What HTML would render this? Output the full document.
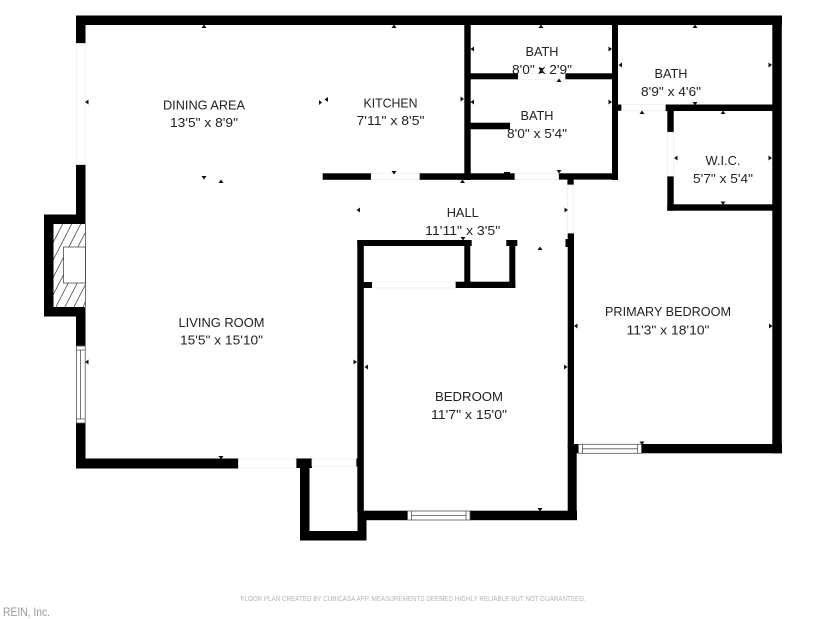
<!DOCTYPE html>
<html><head><meta charset="utf-8">
<style>
html,body{margin:0;padding:0;background:#fff}
svg{display:block}
text{font-family:"Liberation Sans",sans-serif;fill:#222;font-size:13px;text-anchor:middle}
</style></head>
<body>
<svg width="825" height="619" viewBox="0 0 825 619" xmlns="http://www.w3.org/2000/svg">
<defs><clipPath id="fp"><rect x="53" y="224" width="32.5" height="83"/></clipPath></defs>
<rect width="825" height="619" fill="#fff"/>
<!-- hatch -->
<g stroke="#333" stroke-width="0.7" fill="none">
<g clip-path="url(#fp)">
<path d="M62.7 224L19.9 307M71.7 224L28.9 307M80.7 224L37.9 307M89.7 224L46.9 307M98.7 224L55.9 307M107.7 224L64.9 307M116.7 224L73.9 307M125.7 224L82.9 307"/>
</g>
<rect x="63.5" y="247" width="22" height="36" fill="#fff"/>
<path d="M85.5 224V307"/>
</g>
<!-- walls -->
<g fill="#000">
<rect x="76" y="15.5" width="706" height="9.5"/>
<rect x="76" y="15.5" width="9.5" height="28"/>
<rect x="76" y="164.5" width="9.5" height="59.5"/>
<rect x="44" y="214.5" width="41.5" height="9.5"/>
<rect x="44" y="214.5" width="9.5" height="102"/>
<rect x="44" y="307" width="41.5" height="9.5"/>
<rect x="76" y="307" width="9.5" height="39"/>
<rect x="76" y="423" width="9.5" height="45.5"/>
<rect x="76" y="458.5" width="162.5" height="10"/>
<rect x="296" y="458.5" width="16" height="9.5"/>
<rect x="300" y="458.5" width="9.5" height="82"/>
<rect x="300" y="531" width="66.5" height="9.5"/>
<rect x="357.5" y="511" width="9" height="29.5"/>
<rect x="357.3" y="240" width="6.5" height="272"/>
<rect x="355.8" y="458.5" width="3" height="8"/>
<rect x="363" y="510.7" width="44.5" height="9.5"/>
<rect x="470" y="510.7" width="107" height="9.5"/>
<rect x="567.7" y="445" width="9" height="75"/>
<rect x="567.7" y="233" width="6.3" height="215"/>
<rect x="565.5" y="239" width="3" height="8"/>
<rect x="568" y="444" width="10" height="9.3"/>
<rect x="641.7" y="444" width="140.3" height="9.3"/>
<rect x="772.3" y="15.5" width="9.5" height="437.8"/>
<rect x="464.3" y="25" width="6.4" height="155"/>
<rect x="322.7" y="173.3" width="48.6" height="6.5"/>
<rect x="419.3" y="173.3" width="95.7" height="6.5"/>
<rect x="504" y="172" width="6" height="2"/>
<rect x="558.5" y="173.3" width="59.5" height="6.3"/>
<rect x="567.4" y="179" width="6.3" height="6"/>
<rect x="470" y="73.3" width="48.3" height="6"/>
<rect x="565" y="73.3" width="48" height="6"/>
<rect x="470" y="122.7" width="40" height="6.6"/>
<rect x="612" y="25" width="6" height="155"/>
<rect x="617" y="104.5" width="4.7" height="6.3"/>
<rect x="665.3" y="104.5" width="107.5" height="6.5"/>
<rect x="667.3" y="104.5" width="6.4" height="27.8"/>
<rect x="667.3" y="176" width="6.4" height="34.7"/>
<rect x="667.3" y="204.3" width="105.5" height="6.4"/>
<rect x="357.3" y="240" width="114.4" height="6"/>
<rect x="464.3" y="240" width="6" height="48"/>
<rect x="455.3" y="281.7" width="60" height="6.3"/>
<rect x="509.3" y="240" width="6" height="48"/>
<rect x="506.3" y="240" width="11" height="6"/>
<rect x="363" y="282" width="9.3" height="6"/>
</g>
<!-- windows -->
<g fill="#fff" stroke="#555" stroke-width="0.8">
<rect x="76.4" y="346" width="8.8" height="77"/>
<path d="M76.4 350H85.2M76.4 419H85.2M80.6 350V419"/>
<rect x="407.5" y="511" width="62.5" height="9"/>
<path d="M411.5 511V520M466 511V520M411.5 515.5H466"/>
<rect x="578.5" y="444.3" width="63" height="9"/>
<path d="M582.5 444.3V453.3M637.5 444.3V453.3M582.5 448.8H637.5"/>
</g>
<!-- door thresholds -->
<g fill="none" stroke="#eee" stroke-width="0.8">
<rect x="76.5" y="43.5" width="8.5" height="121"/>
<rect x="238.5" y="458.8" width="57.5" height="9.3"/>
<rect x="312" y="458.8" width="44" height="7.5"/>
<rect x="372.3" y="282" width="83" height="6"/>
<rect x="371.3" y="173.5" width="48" height="6"/>
<rect x="515" y="173.5" width="43.5" height="6"/>
<rect x="518.3" y="73.5" width="46.7" height="6"/>
<rect x="621.7" y="104.7" width="43.6" height="6"/>
<rect x="667.5" y="132.3" width="6" height="43.7"/>
<rect x="567.7" y="185" width="6" height="48"/>
</g>
<!-- markers -->
<g fill="#111">
<path d="M201.5 28h5l-2.5-3.5zM391.5 28h5l-2.5-3.5zM538.5 28h5l-2.5-3.5zM692.5 28h5l-2.5-3.5zM218.5 183h5l-2.5-3.5zM460 183h5l-2.5-3.5zM556.5 82h5l-2.5-3.5zM538.5 73h5l-2.5-3.5zM639.5 114h5l-2.5-3.5zM720.5 114h5l-2.5-3.5zM537.5 250h5l-2.5-3.5z"/>
<path d="M201.5 176h5l-2.5 3.5zM391.5 171h5l-2.5 3.5zM538.5 68h5l-2.5 3.5zM556.5 170h5l-2.5 3.5zM692.5 102h5l-2.5 3.5zM720.5 201.5h5l-2.5 3.5zM460.5 237h5l-2.5 3.5zM218.5 456h5l-2.5 3.5zM537.5 508h5l-2.5 3.5zM639.5 441.5h5l-2.5 3.5z"/>
<path d="M88.5 99.5v5l-3.5-2.5zM328 97v5l-3.5-2.5zM474 46.5v5l-3.5-2.5zM474 99.5v5l-3.5-2.5zM622 62.5v5l-3.5-2.5zM677.5 155.5v5l-3.5-2.5zM360 207.5v5l-3.5-2.5zM88.5 359.5v5l-3.5-2.5zM368 364.5v5l-3.5-2.5zM577.5 323.5v5l-3.5-2.5z"/>
<path d="M319 100v5l3 -2.5zM460.5 96.5v5l3.5-2.5zM608.5 46.5v5l3.5-2.5zM608.5 99.5v5l3.5-2.5zM768.5 62.5v5l3.5-2.5zM768.5 155.5v5l3.5-2.5zM564.5 207.5v5l3.5-2.5zM353.5 359.5v5l3.5-2.5zM564 364.5v5l3.5-2.5zM769 323.5v5l3.5-2.5z"/>
</g>
<!-- labels -->
<text x="204" y="109.5" textLength="82" lengthAdjust="spacingAndGlyphs">DINING AREA</text>
<text x="204" y="127" textLength="68" lengthAdjust="spacingAndGlyphs">13'5" x 8'9"</text>
<text x="390.5" y="107.5" textLength="54" lengthAdjust="spacingAndGlyphs">KITCHEN</text>
<text x="390.5" y="125" textLength="68" lengthAdjust="spacingAndGlyphs">7'11" x 8'5"</text>
<text x="542" y="56" textLength="33" lengthAdjust="spacingAndGlyphs">BATH</text>
<text x="542" y="74" textLength="60" lengthAdjust="spacingAndGlyphs">8'0" x 2'9"</text>
<text x="537" y="120" textLength="33" lengthAdjust="spacingAndGlyphs">BATH</text>
<text x="537" y="138" textLength="60" lengthAdjust="spacingAndGlyphs">8'0" x 5'4"</text>
<text x="671" y="78" textLength="33" lengthAdjust="spacingAndGlyphs">BATH</text>
<text x="671" y="96" textLength="60" lengthAdjust="spacingAndGlyphs">8'9" x 4'6"</text>
<text x="723" y="165" textLength="35" lengthAdjust="spacingAndGlyphs">W.I.C.</text>
<text x="723" y="183" textLength="60" lengthAdjust="spacingAndGlyphs">5'7" x 5'4"</text>
<text x="462.7" y="217" textLength="32" lengthAdjust="spacingAndGlyphs">HALL</text>
<text x="462.7" y="235" textLength="75" lengthAdjust="spacingAndGlyphs">11'11" x 3'5"</text>
<text x="221.5" y="327" textLength="86" lengthAdjust="spacingAndGlyphs">LIVING ROOM</text>
<text x="221.5" y="344.5" textLength="83" lengthAdjust="spacingAndGlyphs">15'5" x 15'10"</text>
<text x="668" y="316" textLength="126" lengthAdjust="spacingAndGlyphs">PRIMARY BEDROOM</text>
<text x="668" y="334.5" textLength="83" lengthAdjust="spacingAndGlyphs">11'3" x 18'10"</text>
<text x="469" y="401" textLength="68" lengthAdjust="spacingAndGlyphs">BEDROOM</text>
<text x="469" y="419" textLength="76" lengthAdjust="spacingAndGlyphs">11'7" x 15'0"</text>
<text x="413" y="601" style="font-size:7.5px;fill:#b5b5b5" textLength="345" lengthAdjust="spacingAndGlyphs">FLOOR PLAN CREATED BY CUBICASA APP. MEASUREMENTS DEEMED HIGHLY RELIABLE BUT NOT GUARANTEED.</text>
<text x="3" y="616" style="font-size:11.5px;fill:#999;text-anchor:start" textLength="47" lengthAdjust="spacingAndGlyphs">REIN, Inc.</text>
</svg>
</body></html>
